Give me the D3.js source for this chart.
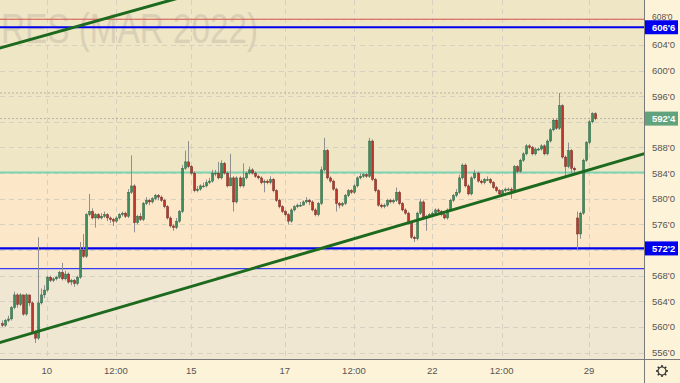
<!DOCTYPE html>
<html><head><meta charset="utf-8">
<script src="https://cdn.jsdelivr.net/npm/d3@7"></script>
<style>html,body{margin:0;padding:0;background:#fdf3d8;} svg{display:block;}</style>
</head><body><svg id="c" width="680" height="383"></svg>
<script>
// ---- data (price units, hourly candles) ----
const openP = [560.5,560.25,561,561.25,563,565,563.5,565,562,565,563.75,559.25,558.25,563.75,565,565.75,567.75,567.25,567.5,567.75,568.5,567.5,568.25,567,567.25,566.75,567.75,572,571,577.5,578,577,577.5,577,577.25,577.5,577,576.75,576.5,577,577.5,577.75,577.25,581,582,576.25,577.25,576.75,579.25,579.75,579.5,580,580.5,580.25,579.75,578.75,577,575.75,575.5,576.5,578,584.75,585.75,585,584,581.25,581.5,582,582,582.5,582.75,584,584,583.25,585.5,584,582,583.25,579.5,583.25,582,583.25,584,584.5,584,583.5,583.25,582.5,582.75,582.5,583,581.25,579.75,578.75,578,577.5,576.5,578.25,578.75,579,579,579.5,579.75,579.5,578.25,577.5,579.25,584.5,587.5,583.25,582.75,581.5,579.25,579,579.25,580.5,581.25,581,582,583.25,583.5,583.75,583.5,589,583,581.25,579,578.75,579,579.75,579.5,579.75,581,579.25,578.25,577.75,576.25,574,573.75,577.75,579.5,577,577.25,577.5,577.75,578.25,578,577.5,577,578.25,579.75,580.5,581,583.25,585.25,582,580.75,583.25,584,582.75,582.5,583,583,582.5,581.75,581.25,580.75,581.25,581.5,581.5,581.25,585,584.25,586,587,588.25,588,587,587.75,587.75,588.25,587,589,590.75,592.25,591,594.5,586.5,585,587.5,584.75,577,574.5,577.75,586,588.75,592,593.25];
const highP = [561,561.25,561.75,563.25,565.5,565.25,565.25,565,565.25,565,564,559.5,574,566,566.5,568,568,567.75,568,568.75,570,568.75,568.5,567.5,567.5,568,573.25,574.5,577.75,580.75,578.5,577.75,577.75,577.75,578,577.75,577.25,577,577.25,577.75,578,578,581.5,586.75,582.25,577.5,577.75,579.5,580.25,580,580.25,580.75,580.75,580.5,580,579,577.25,576,577,578.25,585.25,587.5,589,585.25,584.25,582,582.25,582.5,583,583.25,584.5,584.5,585.75,586,585.75,584.25,587,583.5,583.5,583.5,585.5,584.25,585,584.75,584.25,583.75,583.5,583,583,583.5,583.25,581.5,580,579,578.25,577.75,578.5,579,579.25,579.5,579.75,580.25,580,579.75,578.5,579.5,585,589.5,587.75,583.5,583,581.75,579.5,579.5,580.75,581.5,581.5,582.25,583.5,584,584,584,589.5,589.25,583.25,581.5,579.25,579.25,580,580,580,581.75,581.25,579.5,578.5,578,576.5,574.25,578,580,579.75,577.5,577.75,578,578.5,578.5,578.25,577.75,578.5,580,580.75,581.5,583.75,585.5,585.5,582.25,583.5,584.5,584.25,583,583.25,583.5,583.25,582.75,582,581.5,581.5,581.75,581.75,581.75,585.25,585.25,586.25,587.25,588.5,588.5,588.25,588,588,588.5,588.5,589.25,591,592.5,592.5,596.5,594.75,586.75,588.75,587.75,585,578,578,586.25,589,592.25,593.5,593.5];
const lowP = [560,560,560.75,561,562.75,563,563.25,561.75,561.75,563.25,559,557.5,558,563.5,564.5,565.5,567,567,567.25,567.5,567.25,567.25,566.75,566.5,566.25,566.5,567.5,570.75,570.75,577.25,576.75,575.5,576.75,576.75,577,576.5,576.25,575.75,576.25,576.75,577.25,577,577,580.75,574.75,576,576.5,576.5,579,579,579.25,579.75,579.75,579.5,578.5,576.75,575.5,575,575.25,576.25,577.75,584.5,584.75,583.75,581,581,581.25,581.75,581.75,582.25,582.5,583.5,583,583,583.75,581.75,582,578,579.25,581.75,581.75,583,583.75,583.75,583.25,583,582.25,581,582.25,582.25,581,579.5,578.5,577.75,577.25,576,576.25,578,578.5,578.75,579,579.25,579,578,577.25,577.25,579,584.25,583,582.5,581.25,578,578.5,578.75,579,580.25,580.75,580.75,581.75,583,583.25,583.25,583.25,582.75,581,578.75,578.5,578.5,578.75,579.25,579.25,579.5,579,578,577.5,576,573.75,573.25,573.5,577.5,576.75,575,577,577.25,577.5,577.75,577.25,576.75,576.75,578,579.5,580.25,580.75,583,581.75,580.5,580.5,583,582.5,582.25,582.25,582.75,582.25,581.5,581,580.5,580.5,581,581.25,580,581,584,584,585.75,586.75,587.75,586.75,586.75,587.5,587.5,586.75,586.75,588.75,590.5,590.75,590.75,586.25,583.25,584.75,584,584,572,573.75,577.5,585.75,588.5,591.75,592.25];
const closeP = [560.25,561,561.25,563,565,563.5,565,562,565,563.75,559.25,558.25,563.75,565,565.75,567.75,567.25,567.5,567.75,568.5,567.5,568.25,567,567.25,566.75,567.75,572,571,577.5,578,577,577.5,577,577.25,577.5,577,576.75,576.5,577,577.5,577.75,577.25,581,582,576.25,577.25,576.75,579.25,579.75,579.5,580,580.5,580.25,579.75,578.75,577,575.75,575.5,576.5,578,584.75,585.75,585,584,581.25,581.5,582,582,582.5,582.75,584,584,583.25,585.5,584,582,583.25,579.5,583.25,582,583.25,584,584.5,584,583.5,583.25,582.5,582.75,582.5,583,581.25,579.75,578.75,578,577.5,576.5,578.25,578.75,579,579,579.5,579.75,579.5,578.25,577.5,579.25,584.5,587.5,583.25,582.75,581.5,579.25,579,579.25,580.5,581.25,581,582,583.25,583.5,583.75,583.5,589,583,581.25,579,578.75,579,579.75,579.5,579.75,581,579.25,578.25,577.75,576.25,574,573.75,577.75,579.5,577,577.25,577.5,577.75,578.25,578,577.5,577,578.25,579.75,580.5,581,583.25,585.25,582,580.75,583.25,584,582.75,582.5,583,583,582.5,581.75,581.25,580.75,581.25,581.5,581.5,581.25,585,584.25,586,587,588.25,588,587,587.75,587.75,588.25,587,589,590.75,592.25,591,594.5,586.5,585,587.5,584.75,584.5,574.5,577.75,586,588.75,592,593.25,592.5];

const tickIndex = [15, 38, 63, 94, 117, 143, 166, 195];
const tickLabels = ["10", "12:00", "15", "17", "12:00", "22", "12:00", "29"];
const yTicks = [556, 560, 564, 568, 572, 576, 580, 584, 588, 592, 596, 600, 604, 608];

const redLevel = 608;
const resistance = 606.75;
const sessionHigh = 596.5;
const lastPrice = 592.5;
const zoneUpper = 584.1;
const support = 572.25;
const zoneLower = 569.1;
const trendLow = [[-1, 557.5], [216, 587.4]];
const trendHigh = [[-1, 603.45], [61, 611.6]];
const watermark = "RES (MAR 2022)";
const tagPrices = [resistance, lastPrice, support];

// ---- layout ----
const W = 680, H = 383, PR = 644, PB = 359;
const svg = d3.select("#c");
const x = d3.scaleLinear().domain([0, closeP.length - 1]).range([1.5, 595]);
const y = d3.scaleLinear().domain([555, 611]).range([PB, 0]);
const fmt = v => Math.floor(v) + "'" + Math.round((v - Math.floor(v)) * 8);
const font = "Liberation Sans, Arial, sans-serif";

svg.append("rect").attr("width", W).attr("height", H).attr("fill", "#fdf3d8");
svg.append("defs").append("clipPath").attr("id", "pc")
  .append("rect").attr("width", PR).attr("height", PB);
const g = svg.append("g").attr("clip-path", "url(#pc)");

// zones
g.append("rect").attr("x", 0).attr("y", 0).attr("width", PR).attr("height", y(zoneUpper)).attr("fill", "#efe6c6");
g.append("rect").attr("x", 0).attr("y", y(zoneUpper)).attr("width", PR).attr("height", y(zoneLower) - y(zoneUpper)).attr("fill", "#fde7c9");
g.append("rect").attr("x", 0).attr("y", y(zoneLower)).attr("width", PR).attr("height", PB - y(zoneLower)).attr("fill", "#f0e7d2");

// watermark
g.append("text").attr("x", 1).attr("y", 43).attr("font-family", font)
  .attr("font-size", 42).attr("fill", "#d9d0b6").attr("textLength", 257).attr("lengthAdjust", "spacingAndGlyphs")
  .text(watermark);

// grid
g.selectAll(".hg").data(yTicks).join("line")
  .attr("x1", 0).attr("x2", PR).attr("y1", d => Math.round(y(d)) + 0.5).attr("y2", d => Math.round(y(d)) + 0.5)
  .attr("stroke", "#d6d0c0").attr("stroke-dasharray", "5,4");
g.selectAll(".vg").data(tickIndex).join("line")
  .attr("x1", d => Math.round(x(d)) + 0.5).attr("x2", d => Math.round(x(d)) + 0.5).attr("y1", 0).attr("y2", PB)
  .attr("stroke", "#d6d0c0").attr("stroke-dasharray", "5,4");

// levels
const hline = (v, color, w, dash) => g.append("line").attr("x1", 0).attr("x2", PR)
  .attr("y1", y(v)).attr("y2", y(v)).attr("stroke", color).attr("stroke-width", w)
  .attr("stroke-dasharray", dash || null);
hline(redLevel, "#d9534a", 1);
hline(resistance, "#0000ee", 2);
hline(zoneUpper, "#7ed3b0", 2);
hline(support, "#0000ee", 2.2);
hline(zoneLower, "#3a3aee", 1.3);
hline(sessionHigh, "#b8b0a0", 1, "2,2");
hline(lastPrice, "#b8b0a0", 1, "2,2");

// candles
const idx = d3.range(closeP.length);
g.selectAll(".wk").data(idx).join("line")
  .attr("x1", i => Math.round(x(i)) + 0.5).attr("x2", i => Math.round(x(i)) + 0.5)
  .attr("y1", i => y(highP[i])).attr("y2", i => y(lowP[i]))
  .attr("stroke", "#8f8f8f").attr("stroke-width", 1);
g.selectAll(".bd").data(idx).join("rect")
  .attr("x", i => Math.round(x(i)) - 0.5).attr("width", 2.2)
  .attr("y", i => y(Math.max(openP[i], closeP[i])))
  .attr("height", i => Math.max(1, Math.abs(y(openP[i]) - y(closeP[i]))))
  .attr("fill", i => closeP[i] >= openP[i] ? "#3e8d5e" : "#b9382b")
  .attr("stroke", i => closeP[i] >= openP[i] ? "#25573a" : "#5e1e14").attr("stroke-width", 0.4);

// trend lines
const tl = d3.line().x(d => x(d[0])).y(d => y(d[1]));
[trendLow, trendHigh].forEach(t => g.append("path").attr("d", tl(t))
  .attr("stroke", "#1d6a1f").attr("stroke-width", 3).attr("fill", "none"));

// axes frame
svg.append("line").attr("x1", PR + 0.5).attr("x2", PR + 0.5).attr("y1", 0).attr("y2", H).attr("stroke", "#7a7a7a");
svg.append("line").attr("x1", 0).attr("x2", W).attr("y1", PB + 0.5).attr("y2", PB + 0.5).attr("stroke", "#7a7a7a");

// y labels (those under a price tag are hidden, as in the reference)
const visibleTicks = yTicks.filter(d => tagPrices.every(t => Math.abs(y(d) - y(t)) > 5));
svg.selectAll(".yl").data(visibleTicks).join("text")
  .attr("x", 652).attr("y", d => y(d) + (d === redLevel ? 1 : 3.5)).attr("font-family", font)
  .attr("font-size", d => d === redLevel ? 8.5 : 9.5)
  .attr("fill", "#555").text(d => fmt(d));
svg.selectAll(".xl").data(tickIndex).join("text")
  .attr("x", d => x(d)).attr("y", 374).attr("text-anchor", "middle").attr("font-family", font)
  .attr("font-size", 9.5).attr("fill", "#555").text((d, i) => tickLabels[i]);

// price tags
const tag = (v, color) => {
  svg.append("rect").attr("x", 645).attr("y", y(v) - 7).attr("width", 33).attr("height", 14).attr("fill", color);
  svg.append("text").attr("x", 652).attr("y", y(v) + 3.5).attr("font-family", font).attr("font-size", 9.5)
    .attr("font-weight", "bold").attr("fill", "#fff").text(fmt(v));
};
tag(resistance, "#0000ee");
tag(lastPrice, "#62a37e");
tag(support, "#0000ee");

// gear icon
const gear = svg.append("g").attr("transform", "translate(662,371)");
d3.range(8).forEach(k => {
  const a = k * Math.PI / 4;
  gear.append("line").attr("x1", Math.cos(a) * 3.5).attr("y1", Math.sin(a) * 3.5)
    .attr("x2", Math.cos(a) * 6).attr("y2", Math.sin(a) * 6).attr("stroke", "#333").attr("stroke-width", 1.6);
});
gear.append("circle").attr("r", 4).attr("fill", "#fdf3d8").attr("stroke", "#333").attr("stroke-width", 1.2);
</script></body></html>
